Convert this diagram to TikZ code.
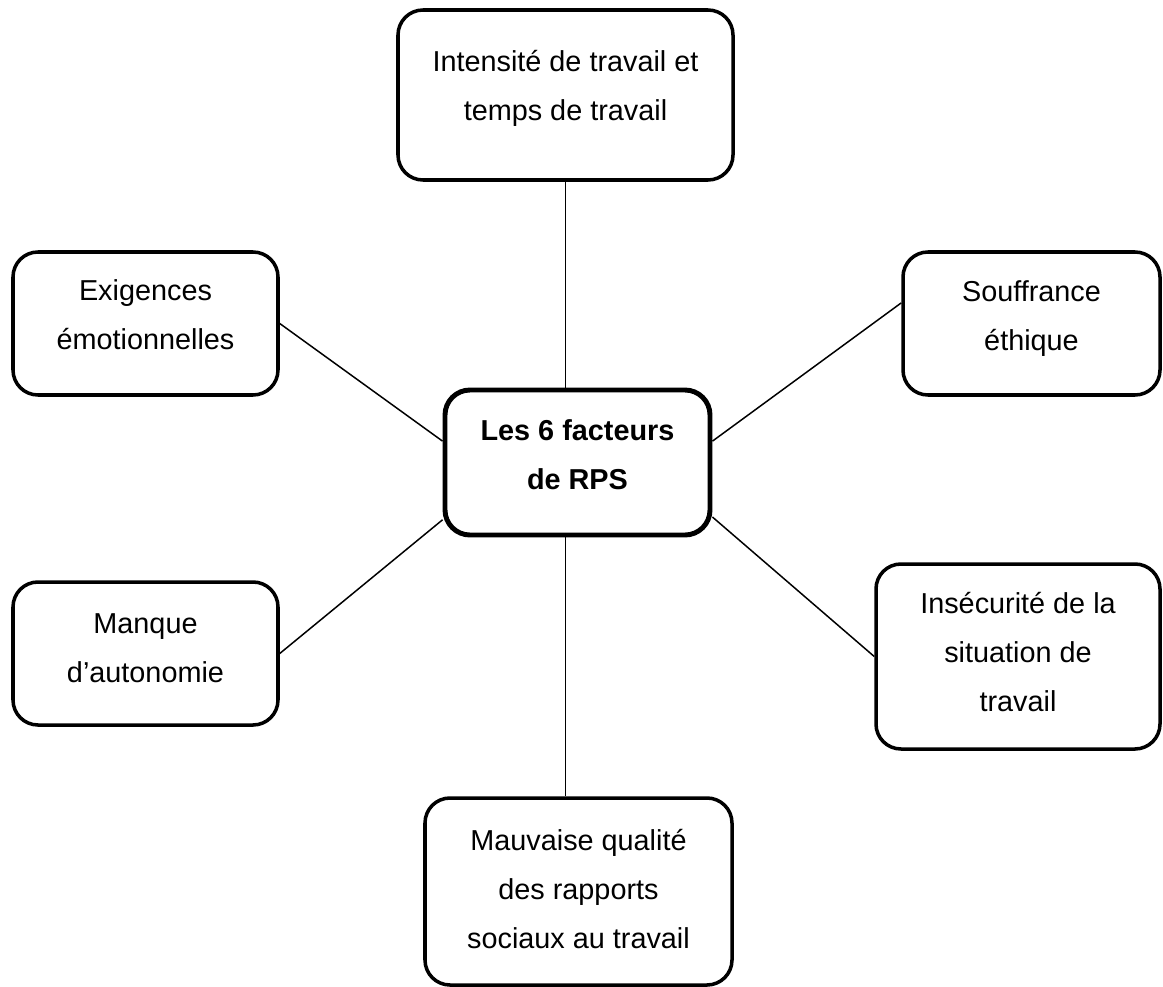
\documentclass[tikz,border=0pt]{standalone}
\usepackage{fontspec}
\setmainfont{Liberation Sans}
\usepackage{tikz}

\begin{document}
\begin{tikzpicture}[
    factor/.style={rectangle, draw, rounded corners=0.5cm, line width=2pt, inner sep=0pt, text centered, font=\fontsize{16.4}{27.9}\selectfont},
    core/.style={factor, line width=2.8pt, font=\fontsize{16.4}{27.9}\selectfont\bfseries},
    link/.style={line width=0.85pt}
]
\useasboundingbox (0,0) rectangle (23.26,-19.74);

\node[core, minimum width=5.3cm, minimum height=2.9cm] (rps) at (11.55,-9.25) {
    \begin{tabular}{c}
    Les 6 facteurs \\
    de RPS \\[8.5pt]
    \end{tabular}
};

\node[factor, minimum width=6.7cm, minimum height=3.4cm] (intens) at (11.31,-1.9) {
    \begin{tabular}{c}
    Intensité de travail et \\
    temps de travail \\[9.6pt]
    \end{tabular}
};

\node[factor, minimum width=5.3cm, minimum height=2.86cm] (exig) at (2.91,-6.47) {
    \begin{tabular}{c}
    Exigences \\
    émotionnelles \\[9.6pt]
    \end{tabular}
};

\node[factor, minimum width=5.14cm, minimum height=2.86cm] (souff) at (20.63,-6.47) {
    \begin{tabular}{c}
    Souffrance \\
    éthique \\[8pt]
    \end{tabular}
};

\node[factor, minimum width=5.3cm, minimum height=2.86cm] (manque) at (2.91,-13.07) {
    \begin{tabular}{c}
    Manque \\
    d’autonomie \\[6.2pt]
    \end{tabular}
};

\node[factor, minimum width=5.68cm, minimum height=3.7cm] (insec) at (20.36,-13.13) {
    \begin{tabular}{c}
    Insécurité de la \\
    situation de \\
    travail \\[4pt]
    \end{tabular}
};

\node[factor, minimum width=6.14cm, minimum height=3.74cm] (maub) at (11.57,-17.83) {
    \begin{tabular}{c}
    Mauvaise qualité \\
    des rapports \\
    sociaux au travail \\[2pt]
    \end{tabular}
};

\draw[link] (intens.south) -- (intens.south |- rps.north);
\draw[link] (exig.east) -- (rps.171);
\draw[link] (souff.171) -- (rps.9);
\draw[link] (manque.east) -- (rps.203);
\draw[link] (insec.west) -- (rps.-22);
\draw[link] (intens.south |- rps.south) -- (intens.south |- maub.north);

\end{tikzpicture}
\end{document}
